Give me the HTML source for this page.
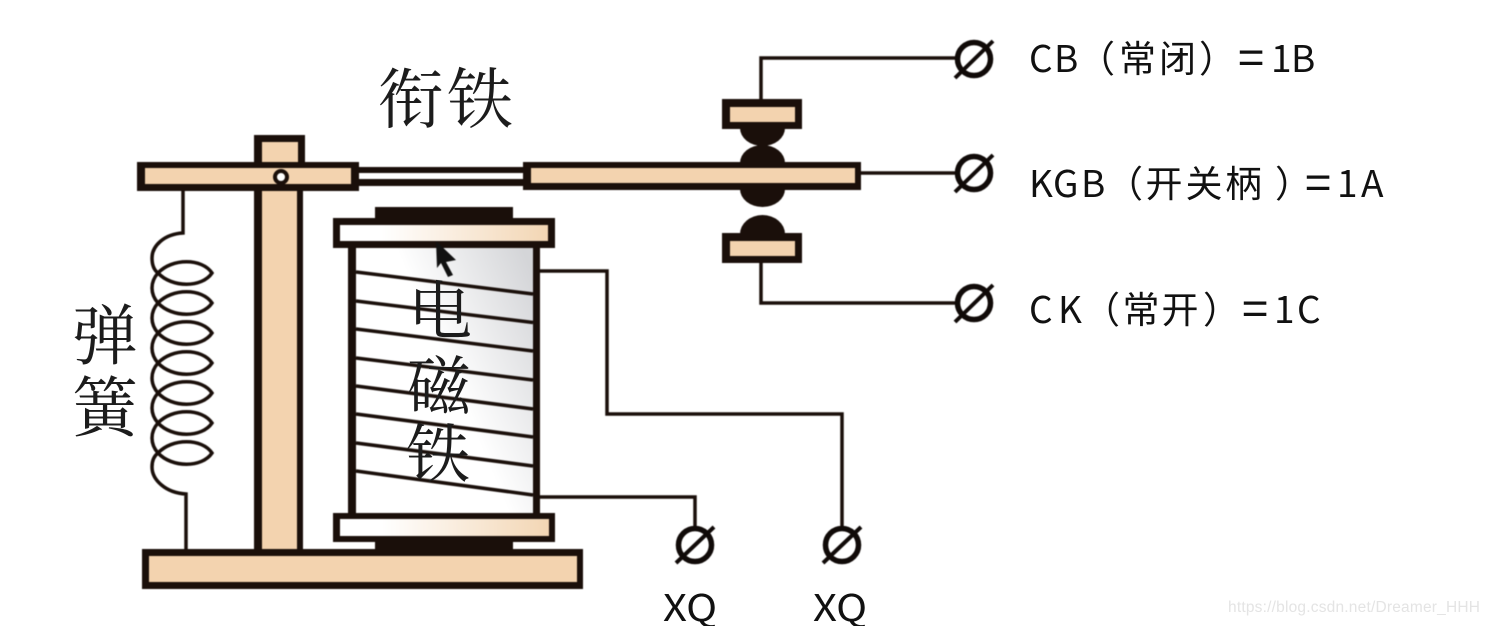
<!DOCTYPE html>
<html lang="zh"><head><meta charset="utf-8"><title>电磁继电器</title>
<style>
html,body{margin:0;padding:0;background:#fff;width:1487px;height:626px;overflow:hidden}
svg{display:block}
.cn{font-family:"Liberation Serif","Noto Serif CJK SC",serif;fill:#1c1c1c;font-weight:400}
.lb{font-family:"Noto Sans CJK SC","Liberation Sans",sans-serif;fill:#111;font-size:37px;font-weight:400}
.eq{font-family:"Noto Sans CJK SC","Liberation Sans",sans-serif;fill:#111;font-size:47px;font-weight:400}
</style></head><body>
<svg width="1487" height="626" viewBox="0 0 1487 626" xmlns="http://www.w3.org/2000/svg">
<defs>
<linearGradient id="fl" x1="0" x2="1" y1="0" y2="0"><stop offset="0.2" stop-color="#fff"/><stop offset="1" stop-color="#f3d6b4"/></linearGradient>
<linearGradient id="coil" x1="0" x2="1" y1="0.75" y2="0.1"><stop offset="0.5" stop-color="#fff"/><stop offset="1" stop-color="#d4d5d8"/></linearGradient>
<filter id="b" x="-5%" y="-5%" width="110%" height="110%" color-interpolation-filters="sRGB"><feGaussianBlur stdDeviation="0.5"/></filter>
<filter id="t" x="-5%" y="-5%" width="110%" height="110%" color-interpolation-filters="sRGB"><feGaussianBlur stdDeviation="0.35"/></filter>
</defs>
<rect width="1487" height="626" fill="#fff"/>
<g filter="url(#b)">
<!-- base -->
<rect x="142" y="549" width="441" height="40" fill="#1a0f0a"/>
<rect x="149" y="556" width="428" height="26" fill="#f3d3af"/>
<!-- post -->
<rect x="254" y="135" width="51" height="30" fill="#1a0f0a"/>
<rect x="262" y="142" width="36" height="22" fill="#f3d3af"/>
<rect x="254" y="188" width="49" height="363" fill="#1a0f0a"/>
<rect x="262" y="188" width="35" height="361" fill="#f3d3af"/>
<!-- lever -->
<rect x="137" y="162" width="222" height="29" fill="#1a0f0a"/>
<rect x="145" y="168" width="206" height="16" fill="#f3d3af"/>
<circle cx="281" cy="177" r="6" fill="#fff" stroke="#1a0f0a" stroke-width="4"/>
<!-- link -->
<rect x="359" y="167" width="165" height="19" fill="#1a0f0a"/>
<rect x="359" y="173" width="165" height="6" fill="#fff"/>
<!-- domes -->
<path d="M740 128 A22.500 18 0 0 0 785 128Z" fill="#1a0f0a"/>
<path d="M740 163 A22.500 18 0 0 1 785 163Z" fill="#1a0f0a"/>
<path d="M740 189 A22.500 18 0 0 0 785 189Z" fill="#1a0f0a"/>
<path d="M740 234 A22.500 19 0 0 1 785 234Z" fill="#1a0f0a"/>
<!-- arm -->
<rect x="523" y="162" width="338" height="28" fill="#1a0f0a"/>
<rect x="531" y="168" width="324" height="15" fill="#f3d3af"/>
<!-- contacts -->
<rect x="722" y="99" width="80" height="30" fill="#1a0f0a"/>
<rect x="730" y="107" width="65" height="15" fill="#f3d3af"/>
<rect x="722" y="233" width="80" height="30" fill="#1a0f0a"/>
<rect x="730" y="241" width="65" height="15" fill="#f3d3af"/>
<!-- magnet -->
<rect x="356" y="246" width="177" height="270" fill="url(#coil)"/>
<rect x="348" y="244" width="8" height="272" fill="#1a0f0a"/>
<rect x="533" y="244" width="7" height="272" fill="#1a0f0a"/>
<rect x="375" y="207" width="138" height="13" fill="#1a0f0a"/>
<rect x="333" y="218" width="222" height="30" fill="#1a0f0a"/>
<rect x="340" y="225" width="208" height="16" fill="url(#fl)"/>
<rect x="375" y="540" width="138" height="11" fill="#1a0f0a"/>
<rect x="333" y="513" width="222" height="29" fill="#1a0f0a"/>
<rect x="340" y="519" width="209" height="17" fill="url(#fl)"/>
<!-- coil windings -->
<g stroke="#1a0f0a" stroke-width="3.500" fill="none">
<path d="M356 272L533 294M356 301L533 322.500M356 329L533 351M356 358L533 380M356 386L533 409M356 414L533 437M356 443L533 466M356 471L533 495"/>
</g>
<!-- wires -->
<g stroke="#1a0f0a" stroke-width="3.500" fill="none">
<path d="M540 271H607V414H842V527"/>
<path d="M540 497H695V527"/>
<path d="M761 100V58H956"/>
<path d="M861 173H956"/>
<path d="M761 263V303H956"/>
<!-- spring -->
<path d="M183 191V233C164 234 152 246 152 258C152 265 154 270 158 273"/>
<path d="M186 549V494C166 493 152 480 152 467C152 460 154 456 158 453"/>
<path d="M158 273C172 258 202 258 212 273C202 288 172 288 158 273Z"/>
<path d="M158 303C172 288 202 288 212 303C202 318 172 318 158 303Z"/>
<path d="M158 333C172 318 202 318 212 333C202 348 172 348 158 333Z"/>
<path d="M158 363C172 348 202 348 212 363C202 378 172 378 158 363Z"/>
<path d="M158 393C172 378 202 378 212 393C202 408 172 408 158 393Z"/>
<path d="M158 423C172 408 202 408 212 423C202 438 172 438 158 423Z"/>
<path d="M158 453C172 438 202 438 212 453C202 468 172 468 158 453Z"/>
<path d="M158 273C150 282 150 294 158 303C150 312 150 324 158 333C150 342 150 354 158 363C150 372 150 384 158 393C150 402 150 414 158 423C150 432 150 444 158 453"/>
</g>
<!-- terminals -->
<g stroke="#100a08" fill="#fff">
<circle cx="974" cy="59" r="16.500" stroke-width="5.500"/><path d="M955 78L993 41" stroke-width="4" fill="none"/>
<circle cx="974" cy="173" r="16.500" stroke-width="5.500"/><path d="M955 192L993 155" stroke-width="4" fill="none"/>
<circle cx="974" cy="303" r="16.500" stroke-width="5.500"/><path d="M955 322L993 285" stroke-width="4" fill="none"/>
<circle cx="695" cy="545" r="16.500" stroke-width="5.500"/><path d="M676 563L714 527" stroke-width="4" fill="none"/>
<circle cx="842" cy="545" r="16.500" stroke-width="5.500"/><path d="M823 563L861 527" stroke-width="4" fill="none"/>
</g>
<!-- cursor -->
<path d="M436 241L456 260L446 262L453 275L448 277L441 263L437 268Z" fill="#111"/>
</g>
<!-- text -->
<g filter="url(#t)">
<text class="cn" x="378 447" y="122.500" font-size="66">衔铁</text>
<text class="cn" x="72" y="359" font-size="66">弹</text>
<text class="cn" x="72" y="431" font-size="66">簧</text>
<text class="cn" x="408" y="334" font-size="64">电</text>
<text class="cn" x="407" y="409" font-size="64">磁</text>
<text class="cn" x="406" y="477" font-size="64">铁</text>
<text class="lb" x="1029 1054 1078 1119 1159 1199" y="72">CB（常闭）</text>
<text class="eq" x="1238" y="75">=</text>
<text class="lb" x="1271 1291" y="72">1B</text>
<text class="lb" x="1029 1053 1081 1106 1145.500 1185.500 1225 1275" y="197">KGB（开关柄）</text>
<text class="eq" x="1305" y="200">=</text>
<text class="lb" x="1337 1361" y="197">1A</text>
<text class="lb" x="1029 1058 1083 1122.500 1161.500 1203" y="323">CK（常开）</text>
<text class="eq" x="1242" y="326">=</text>
<text class="lb" x="1274 1297" y="323">1C</text>
<text class="lb" transform="translate(663,621) scale(1.13,1)">XQ</text>
<text class="lb" transform="translate(813,621) scale(1.13,1)">XQ</text>
<text x="1228" y="612" font-family="Liberation Sans, sans-serif" font-size="15.500" fill="#e4e4e4" textLength="252">https://blog.csdn.net/Dreamer_HHH</text>
</g>
</svg>
</body></html>
